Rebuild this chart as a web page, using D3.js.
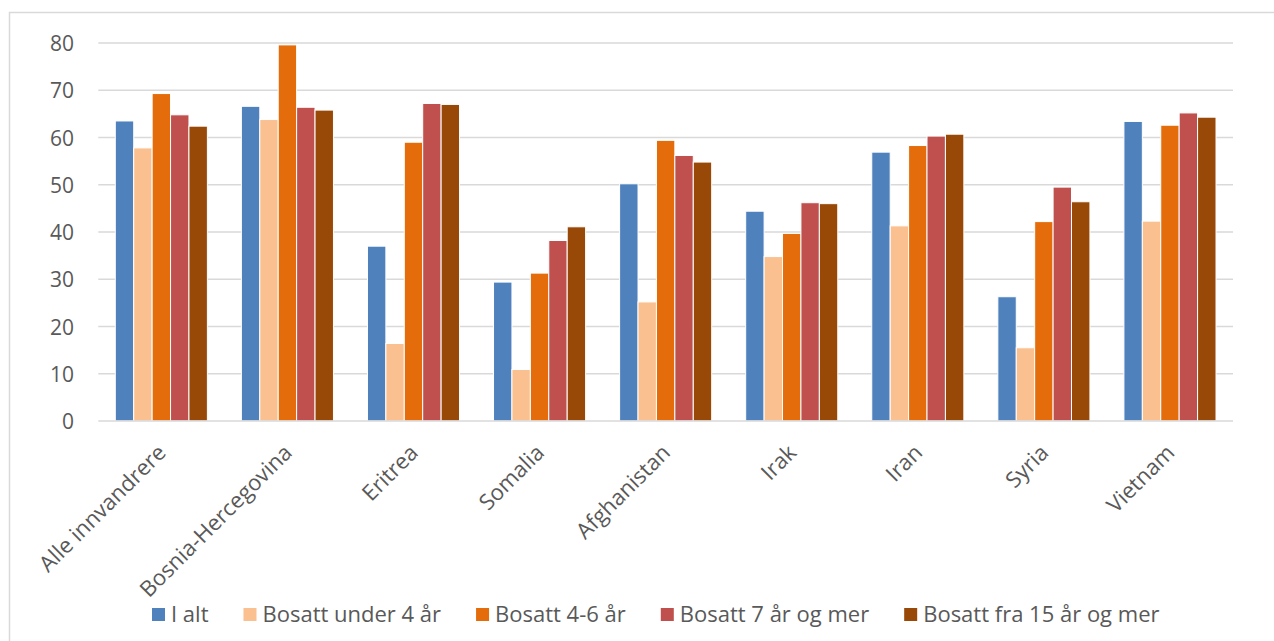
<!DOCTYPE html>
<html>
<head>
<meta charset="utf-8">
<script src="https://cdn.jsdelivr.net/npm/d3@7"></script>
<style>
  html, body { margin: 0; padding: 0; background: #fff; }
  svg { display: block; }
  text { font-family: "Open Sans", "Noto Sans", sans-serif; fill: #595959; }
</style>
</head>
<body>
<svg id="chart" width="1274" height="641"></svg>
<script>
// Share employed (%) by country of origin and length of residence
const categories = ["Alle innvandrere", "Bosnia-Hercegovina", "Eritrea", "Somalia", "Afghanistan", "Irak", "Iran", "Syria", "Vietnam"];
const seriesNames = ["I alt", "Bosatt under 4 år", "Bosatt 4-6 år", "Bosatt 7 år og mer", "Bosatt fra 15 år og mer"];
const seriesColors = ["#4F81BD", "#FAC090", "#E46C0A", "#C0504D", "#984807"];

const iAlt        = [63.5, 66.6, 37.0, 29.4, 50.2, 44.4, 56.9, 26.3, 63.4];
const under4      = [57.8, 63.8, 16.4, 10.9, 25.2, 34.8, 41.3, 15.5, 42.3];
const aar4til6    = [69.3, 79.6, 59.0, 31.3, 59.4, 39.7, 58.3, 42.2, 62.6];
const aar7ogMer   = [64.8, 66.4, 67.2, 38.2, 56.2, 46.2, 60.3, 49.5, 65.2];
const fra15ogMer  = [62.4, 65.8, 67.0, 41.1, 54.8, 46.0, 60.7, 46.4, 64.3];
const seriesValues = [iAlt, under4, aar4til6, aar7ogMer, fra15ogMer];

const yTicks = [0, 10, 20, 30, 40, 50, 60, 70, 80];

const svg = d3.select("#chart");
const W = 1274, H = 641;
const plot = { left: 98.3, right: 1233, top: 43, bottom: 421 };

// outer chart frame
svg.append("rect")
  .attr("x", 9.5).attr("y", 12.5)
  .attr("width", W + 20).attr("height", H + 20)
  .attr("fill", "none").attr("stroke", "#d9d9d9").attr("stroke-width", 1.5);

const x0 = d3.scaleBand().domain(categories).range([plot.left, plot.right]).paddingInner(0).paddingOuter(0);
const groupPad = 17;
const x1 = d3.scaleBand().domain(seriesNames).range([groupPad, x0.bandwidth() - groupPad]);
const y = d3.scaleLinear().domain([0, 80]).range([plot.bottom, plot.top]);

// gridlines
svg.append("g").selectAll("line").data(yTicks.filter(t => t > 0)).join("line")
  .attr("x1", plot.left).attr("x2", plot.right)
  .attr("y1", d => y(d)).attr("y2", d => y(d))
  .attr("stroke", "#d9d9d9").attr("stroke-width", 1.5);

// y axis labels
const yAxis = d3.axisLeft(y).tickValues(yTicks).tickSize(0).tickPadding(0);
const yg = svg.append("g").attr("transform", `translate(74,0)`).call(yAxis);
yg.select(".domain").remove();
yg.selectAll("text")
  .attr("font-size", 21).attr("fill", "#595959")
  .style("font-family", '"Open Sans", "Noto Sans", sans-serif')
  .attr("dy", "0.36em");

// bars
const groups = svg.append("g").selectAll("g").data(categories).join("g")
  .attr("transform", d => `translate(${x0(d)},0)`);
groups.selectAll("rect")
  .data((c, ci) => seriesNames.map((s, si) => ({ s, si, v: seriesValues[si][ci] })))
  .join("rect")
  .attr("x", d => x1(d.s))
  .attr("y", d => y(d.v))
  .attr("width", x1.bandwidth())
  .attr("height", d => y(0) - y(d.v))
  .attr("fill", d => seriesColors[d.si])
  .attr("stroke", "#fff").attr("stroke-width", 1);

// x axis baseline
svg.append("line")
  .attr("x1", plot.left).attr("x2", plot.right)
  .attr("y1", y(0)).attr("y2", y(0))
  .attr("stroke", "#d9d9d9").attr("stroke-width", 1.5);

// x axis labels, rotated
svg.append("g").selectAll("text").data(categories).join("text")
  .attr("transform", d => `translate(${x0(d) + x0.bandwidth() / 2 + 6},${plot.bottom + 33}) rotate(-45)`)
  .attr("text-anchor", "end")
  .attr("font-size", 22)
  .text(d => d);

// legend
const legend = svg.append("g");
let lx = 152;
seriesNames.forEach((name, i) => {
  legend.append("rect")
    .attr("x", lx).attr("y", 608).attr("width", 13).attr("height", 13)
    .attr("fill", seriesColors[i]);
  const t = legend.append("text")
    .attr("x", lx + 19).attr("y", 621.5)
    .attr("font-size", 22)
    .text(name);
  lx += 19 + t.node().getComputedTextLength() + 35;
});
</script>
</body>
</html>
